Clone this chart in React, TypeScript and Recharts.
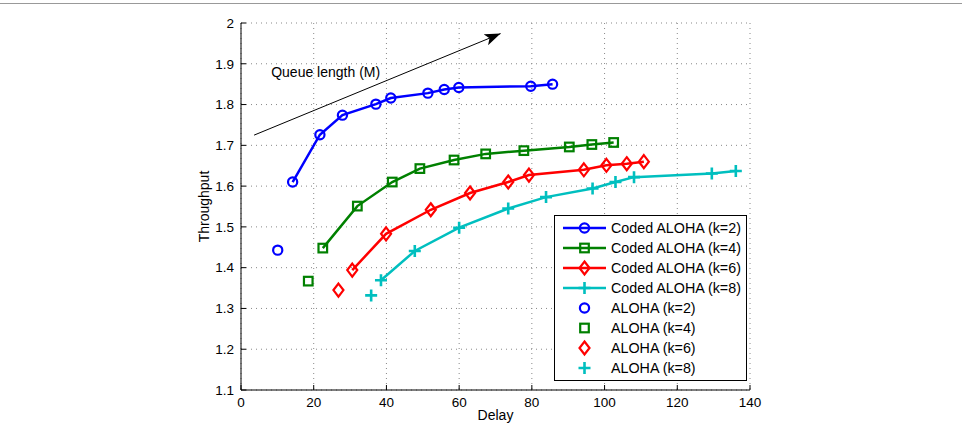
import React from 'react'
import {
  ComposedChart,
  Line,
  Scatter,
  XAxis,
  YAxis,
  CartesianGrid,
  Legend,
  Label,
  ReferenceDot
} from 'recharts'

// delay / throughput
const codedK2Delay = [14.2, 21.7, 27.9, 37.1, 41.2, 51.4, 55.9, 59.9, 79.7, 85.7]
const codedK2Thr = [1.61, 1.726, 1.774, 1.801, 1.816, 1.828, 1.837, 1.842, 1.845, 1.85]

const codedK4Delay = [22.5, 32.0, 41.6, 49.2, 58.6, 67.3, 77.8, 90.3, 96.5, 102.5]
const codedK4Thr = [1.448, 1.551, 1.61, 1.643, 1.664, 1.679, 1.687, 1.696, 1.702, 1.707]

const codedK6Delay = [30.6, 39.9, 52.2, 63.0, 73.5, 79.2, 94.3, 100.5, 106.1, 110.8]
const codedK6Thr = [1.394, 1.483, 1.542, 1.583, 1.61, 1.627, 1.64, 1.651, 1.655, 1.66]

const codedK8Delay = [38.5, 47.8, 60.0, 73.5, 83.9, 96.7, 103.0, 108.1, 129.5, 136.1]
const codedK8Thr = [1.369, 1.441, 1.498, 1.545, 1.573, 1.594, 1.61, 1.622, 1.631, 1.637]

const alohaDelay = [10.1, 18.5, 26.8, 35.8]
const alohaThr = [1.443, 1.367, 1.345, 1.332]

const arrowDelay = [3.6, 71.4]
const arrowThr = [1.725, 1.974]

const xTicks = [0, 20, 40, 60, 80, 100, 120, 140]
const yTicks = [1.1, 1.2, 1.3, 1.4, 1.5, 1.6, 1.7, 1.8, 1.9, 2]

const BLUE = '#0000ff'
const GREEN = '#008000'
const RED = '#ff0000'
const CYAN = '#00bfbf'

const FONT = '"Liberation Sans", Arial, Helvetica, sans-serif'

const toPts = (xs: number[], ys: number[]) => xs.map((x, i) => ({ x, y: ys[i] }))

const series = [
  { name: 'Coded ALOHA (k=2)', color: BLUE, kind: 'circle', data: toPts(codedK2Delay, codedK2Thr) },
  { name: 'Coded ALOHA (k=4)', color: GREEN, kind: 'square', data: toPts(codedK4Delay, codedK4Thr) },
  { name: 'Coded ALOHA (k=6)', color: RED, kind: 'diamond', data: toPts(codedK6Delay, codedK6Thr) },
  { name: 'Coded ALOHA (k=8)', color: CYAN, kind: 'plus', data: toPts(codedK8Delay, codedK8Thr) }
]

const singles = series.map((s, i) => ({
  name: s.name.replace('Coded ', ''),
  color: s.color,
  kind: s.kind,
  data: [{ x: alohaDelay[i], y: alohaThr[i] }]
}))

function Marker ({ kind, cx, cy, color }: any) {
  if (cx == null || cy == null) return null
  if (kind === 'circle') {
    return <circle cx={cx} cy={cy} r={4.6} fill='none' stroke={color} strokeWidth={2.2} />
  }
  if (kind === 'square') {
    return <rect x={cx - 4.3} y={cy - 4.3} width={8.6} height={8.6} fill='none' stroke={color} strokeWidth={2.2} />
  }
  if (kind === 'diamond') {
    return (
      <path
        d={`M${cx},${cy - 6.5} L${cx + 5},${cy} L${cx},${cy + 6.5} L${cx - 5},${cy} Z`}
        fill='none'
        stroke={color}
        strokeWidth={2.2}
      />
    )
  }
  return (
    <path
      d={`M${cx - 6},${cy} L${cx + 6},${cy} M${cx},${cy - 6} L${cx},${cy + 6}`}
      stroke={color}
      strokeWidth={2.6}
    />
  )
}

const NoLabel = () => <g />

function LegendBox () {
  const rows = [...series, ...singles]
  return (
    <svg width={193} height={166} style={{ display: 'block' }}>
      <rect x={0.5} y={0.5} width={192} height={165} fill='#fff' stroke='#000' strokeWidth={1} />
      {rows.map((r, i) => {
        const cy = 13 + i * 20
        const isLine = i < 4
        return (
          <g key={r.name}>
            {isLine && <line x1={9} x2={52} y1={cy} y2={cy} stroke={r.color} strokeWidth={2.5} />}
            <Marker kind={r.kind} cx={30.5} cy={cy} color={r.color} />
            <text x={57} y={cy} dy='0.35em' fontSize={14.3} fontFamily={FONT} fill='#000'>
              {r.name}
            </text>
          </g>
        )
      })}
    </svg>
  )
}

export default function App () {
  return (
    <div style={{ position: 'absolute', left: 0, top: 0, width: 962, height: 424, background: '#fff', fontFamily: FONT }}>
      <div style={{ position: 'absolute', left: 0, top: 3, width: 962, height: 1, background: '#999' }} />
      <ComposedChart
        width={962}
        height={424}
        margin={{ top: 23, right: 212, left: 196, bottom: 4 }}
      >
        <defs>
          <marker
            id='arrowHead'
            markerUnits='userSpaceOnUse'
            markerWidth={18}
            markerHeight={12}
            refX={16}
            refY={6}
            orient='auto'
          >
            <path d='M0,0 L16,6 L0,12 L4,6 Z' fill='#000' />
          </marker>
        </defs>
        <CartesianGrid stroke='#888' strokeDasharray='1 4' />
        <XAxis
          type='number'
          dataKey='x'
          domain={[0, 140]}
          ticks={xTicks}
          allowDataOverflow
          height={30}
          stroke='#000'
          tickSize={-5}
          tickMargin={12}
          tick={{ fill: '#000', fontSize: 13.5, fontFamily: FONT }}
        >
          <Label
            content={({ viewBox }: any) => (
              <text x={viewBox.x + viewBox.width / 2} y={420} textAnchor='middle' fontSize={14} fontFamily={FONT} fill='#000'>
                Delay
              </text>
            )}
          />
        </XAxis>
        <XAxis
          xAxisId='top'
          orientation='top'
          type='number'
          dataKey='x'
          domain={[0, 140]}
          ticks={xTicks}
          height={0}
          stroke='#000'
          tickSize={-5}
          tick={<NoLabel />}
        />
        <YAxis
          type='number'
          domain={[1.1, 2]}
          ticks={yTicks}
          allowDataOverflow
          width={45}
          stroke='#000'
          tickSize={-5}
          tickMargin={12}
          tick={{ fill: '#000', fontSize: 13.5, fontFamily: FONT }}
        >
          <Label
            content={({ viewBox }: any) => {
              const cx = viewBox.x + 8
              const cy = viewBox.y + viewBox.height / 2
              return (
                <text x={cx} y={cy} transform={`rotate(-90 ${cx} ${cy})`} textAnchor='middle' dy='0.35em' fontSize={14} fontFamily={FONT} fill='#000'>
                  Throughput
                </text>
              )
            }}
          />
        </YAxis>
        <YAxis
          yAxisId='right'
          orientation='right'
          type='number'
          domain={[1.1, 2]}
          ticks={yTicks}
          width={0}
          stroke='#000'
          tickSize={-5}
          tick={<NoLabel />}
        />
        <Legend
          layout='horizontal'
          verticalAlign='middle'
          align='center'
          content={() => <LegendBox />}
          wrapperStyle={{ position: 'absolute', left: 554, top: 215, width: 193, height: 166 }}
        />
        {series.map(s => (
          <Line
            key={s.name}
            data={s.data}
            dataKey='y'
            name={s.name}
            stroke={s.color}
            strokeWidth={2.5}
            dot={(p: any) => <Marker key={p.index} kind={s.kind} cx={p.cx} cy={p.cy} color={s.color} />}
            activeDot={false}
            isAnimationActive={false}
          />
        ))}
        {singles.map(s => (
          <Scatter
            key={s.name}
            data={s.data}
            dataKey='y'
            name={s.name}
            shape={(p: any) => <Marker kind={s.kind} cx={p.cx} cy={p.cy} color={s.color} />}
            isAnimationActive={false}
          />
        ))}
        <Line
          data={toPts(arrowDelay, arrowThr)}
          dataKey='y'
          stroke='#000'
          strokeWidth={1}
          dot={false}
          activeDot={false}
          legendType='none'
          markerEnd='url(#arrowHead)'
          isAnimationActive={false}
        />
        <ReferenceDot
          x={8.3}
          y={1.879}
          r={0}
          shape={(p: any) => (
            <text x={p.cx} y={p.cy} dy='0.35em' fontSize={14} fontFamily={FONT} fill='#000'>
              Queue length (M)
            </text>
          )}
        />
      </ComposedChart>
    </div>
  )
}
